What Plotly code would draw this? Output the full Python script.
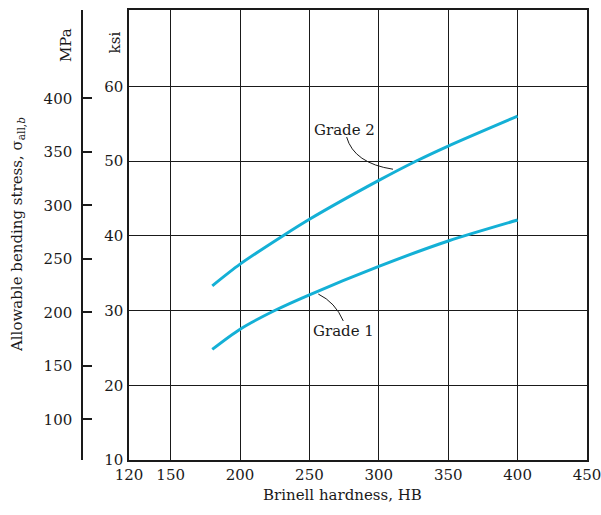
import plotly.graph_objects as go

# Brinell hardness (HB) and allowable bending stress (ksi)
hb_grade2 = [180, 200, 231, 250, 300, 327, 350, 400]
ksi_grade2 = [33.3, 36.2, 40.0, 42.2, 47.4, 50.0, 52.0, 56.0]

hb_grade1 = [180, 200, 225, 250, 300, 350, 400]
ksi_grade1 = [24.8, 27.5, 30.0, 32.1, 35.9, 39.3, 42.1]

x_ticks = [120, 150, 200, 250, 300, 350, 400, 450]
ksi_ticks = [10, 20, 30, 40, 50, 60]
mpa_ticks = [100, 150, 200, 250, 300, 350, 400]

FONT = "DejaVu Serif"
INK = "#1a1a1a"
CURVE = "#14b0d6"

fig = go.Figure()

for hb, ksi, name in [(hb_grade2, ksi_grade2, "Grade 2"), (hb_grade1, ksi_grade1, "Grade 1")]:
    fig.add_trace(go.Scatter(
        x=hb, y=ksi, mode="lines", name=name,
        line=dict(color=CURVE, width=3, shape="spline", smoothing=0.8),
        showlegend=False, hoverinfo="skip",
    ))

# invisible trace to carry the MPa axis
fig.add_trace(go.Scatter(x=[None], y=[None], yaxis="y2", showlegend=False, hoverinfo="skip"))

fig.update_layout(
    width=601, height=515,
    margin=dict(l=82, r=14, t=10, b=55, autoexpand=False),
    paper_bgcolor="white", plot_bgcolor="white",
    font=dict(family=FONT, size=15, color=INK),
    xaxis=dict(
        domain=[0.0931, 1], range=[120, 450], automargin=False,
        tickvals=x_ticks, ticks="", showgrid=True, gridcolor=INK, gridwidth=1.3,
        showline=True, linecolor=INK, linewidth=1.5, mirror=True, zeroline=False,
        tickfont=dict(family=FONT, size=15, color=INK), ticklabeloverflow="allow",
    ),
    yaxis=dict(
        range=[10, 70.2], tickvals=ksi_ticks, ticks="", automargin=False,
        showgrid=True, gridcolor=INK, gridwidth=1.3,
        showline=True, linecolor=INK, linewidth=1.5, mirror=True, zeroline=False,
        tickfont=dict(family=FONT, size=15, color=INK), ticklabelstandoff=1,
    ),
    yaxis2=dict(
        overlaying="y", anchor="free", position=0, side="left", automargin=False,
        range=[62, 482.5], tickvals=mpa_ticks, ticks="inside", ticklen=9,
        tickcolor=INK, tickwidth=1.5, showgrid=False, zeroline=False,
        showline=True, linecolor=INK, linewidth=1.5,
        tickfont=dict(family=FONT, size=15, color=INK), ticklabelstandoff=6,
    ),
)

annotations = [
    dict(text="Brinell hardness, HB", xref="paper", yref="paper", x=0.5168, y=-0.078,
         xanchor="center", yanchor="middle", showarrow=False),
    dict(text="Allowable bending stress, σ<sub>all,<i>b</i></sub>", xref="paper", yref="paper",
         x=-0.1287, y=0.5, textangle=-90, xanchor="center", yanchor="middle", showarrow=False),
    dict(text="MPa", xref="paper", yref="paper", x=-0.0317, y=0.922, textangle=-90,
         xanchor="center", yanchor="middle", showarrow=False),
    dict(text="ksi", xref="paper", yref="paper", x=0.0653, y=0.928, textangle=-90,
         xanchor="center", yanchor="middle", showarrow=False),
    dict(text="Grade 2", x=275.6, y=54.2, xref="x", yref="y", showarrow=False,
         xanchor="center", yanchor="middle"),
    dict(text="Grade 1", x=274.9, y=27.3, xref="x", yref="y", showarrow=False,
         xanchor="center", yanchor="middle"),
]
fig.update_layout(annotations=annotations)

# curved leader lines from the labels to the curves
fig.add_shape(type="path", xref="x", yref="y",
              path="M 276.8,53.2 Q 282.1,49.7 310.2,48.9",
              line=dict(color=INK, width=1))
fig.add_shape(type="path", xref="x", yref="y",
              path="M 256.4,32.2 Q 268.6,31.1 274.4,28.6",
              line=dict(color=INK, width=1))

fig.write_html("out.html")
